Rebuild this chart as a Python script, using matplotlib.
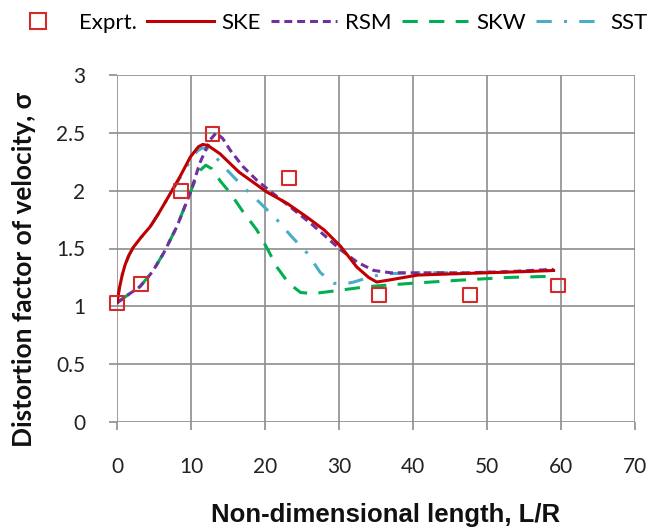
import matplotlib
matplotlib.use("Agg")
import matplotlib.pyplot as plt
from matplotlib.lines import Line2D

# Experimental data
exp_x = [0.0, 3.2, 8.6, 12.9, 23.2, 35.4, 47.7, 59.6]
exp_y = [1.03, 1.19, 2.00, 2.49, 2.11, 1.10, 1.10, 1.18]

# Standard k-epsilon
ske_x = [0.0, 0.3, 0.7, 1.1, 1.6, 2.2, 3.3, 4.5, 5.6, 6.7, 8.5, 9.9, 11.0, 11.6, 12.3, 13.9, 16.5, 18.9, 20.2, 23.0, 25.7, 28.0, 30.2, 32.4, 34.0, 35.1, 37.0, 40.6, 45.0, 50.0, 55.0, 59.0]
ske_y = [1.03, 1.15, 1.27, 1.36, 1.44, 1.51, 1.60, 1.69, 1.80, 1.92, 2.12, 2.29, 2.38, 2.40, 2.39, 2.32, 2.16, 2.05, 1.99, 1.89, 1.77, 1.66, 1.52, 1.34, 1.25, 1.21, 1.23, 1.27, 1.28, 1.29, 1.30, 1.31]

# Reynolds stress model
rsm_x = [0.0, 1.5, 3.1, 4.8, 6.3, 8.1, 9.9, 11.2, 12.6, 13.4, 14.3, 15.3, 17.0, 18.9, 21.0, 23.4, 26.5, 30.2, 32.5, 34.7, 37.0, 41.0, 47.3, 53.0, 59.0]
rsm_y = [1.03, 1.10, 1.17, 1.30, 1.46, 1.69, 1.98, 2.24, 2.44, 2.50, 2.45, 2.35, 2.21, 2.09, 1.98, 1.86, 1.70, 1.49, 1.38, 1.31, 1.29, 1.29, 1.29, 1.30, 1.32]

# Standard k-omega
skw_x = [0.0, 1.5, 3.1, 4.8, 6.3, 8.1, 9.5, 10.5, 11.3, 12.0, 12.8, 14.0, 15.3, 17.0, 18.9, 20.3, 21.6, 23.2, 24.8, 26.5, 29.0, 33.8, 40.0, 47.3, 53.0, 59.0]
skw_y = [1.03, 1.10, 1.17, 1.30, 1.46, 1.69, 1.92, 2.08, 2.18, 2.22, 2.19, 2.08, 1.98, 1.82, 1.66, 1.50, 1.34, 1.20, 1.12, 1.11, 1.13, 1.17, 1.20, 1.23, 1.25, 1.26]

# Shear stress transport
sst_x = [0.0, 0.3, 0.7, 1.1, 1.6, 2.2, 3.3, 4.5, 5.6, 6.7, 8.5, 9.9, 10.8, 11.5, 12.2, 13.2, 15.0, 17.1, 19.4, 21.6, 23.5, 25.7, 27.5, 29.3, 30.5, 32.0, 34.0, 36.0, 40.0, 47.3, 53.0, 59.0]
sst_y = [1.03, 1.15, 1.27, 1.36, 1.44, 1.51, 1.60, 1.69, 1.80, 1.92, 2.11, 2.26, 2.34, 2.37, 2.36, 2.30, 2.17, 2.03, 1.89, 1.75, 1.61, 1.46, 1.29, 1.20, 1.19, 1.21, 1.25, 1.28, 1.29, 1.29, 1.30, 1.31]

x_ticks = [0, 10, 20, 30, 40, 50, 60, 70]
y_ticks = [0, 0.5, 1, 1.5, 2, 2.5, 3]
y_tick_labels = ["0", "0.5", "1", "1.5", "2", "2.5", "3"]
labels = ["Exprt.", "SKE", "RSM", "SKW", "SST"]

plt.rcParams['font.family'] = ['Lato', 'DejaVu Sans']

W, H = 667, 528
fig = plt.figure(figsize=(W / 100, H / 100), dpi=100)
ax = fig.add_axes([117 / W, 1 - 422 / H, (635 - 117) / W, (422 - 75) / H])

red = "#c00000"
purple = "#7030a0"
green = "#00b050"
cyan = "#4bacc6"
marker_red = "#d42a2a"

LW = 2.2
ske_style = dict(color=red, lw=LW)
rsm_style = dict(color=purple, lw=LW, dashes=(2.6, 1.6))
skw_style = dict(color=green, lw=LW, dashes=(5, 3.7))
sst_style = dict(color=cyan, lw=LW, dashes=(5, 4, 1, 4))

ax.plot(sst_x, sst_y, zorder=3, **sst_style)
ax.plot(skw_x, skw_y, zorder=3, **skw_style)
ax.plot(rsm_x, rsm_y, zorder=4, **rsm_style)
ax.plot(ske_x, ske_y, zorder=5, **ske_style)
ax.scatter(exp_x, exp_y, marker="s", s=100, facecolors="none", edgecolors=marker_red,
           linewidths=1.5, zorder=6, clip_on=False)

ax.set_xlim(0, 70)
ax.set_ylim(0, 3)
ax.set_xticks(x_ticks)
ax.set_yticks(y_ticks)
ax.set_yticklabels(y_tick_labels)
ax.grid(True, color="#8c8c8c", lw=1.2)
ax.set_axisbelow(True)
for s in ax.spines.values():
    s.set_visible(False)
ax.tick_params(axis="both", colors="#8c8c8c", length=6, width=1.2, labelsize=15,
               labelcolor="#222222")
ax.tick_params(axis="x", pad=19)
ax.tick_params(axis="y", pad=17)

ax.set_xlabel("Non-dimensional length, L/R", fontsize=18.5, fontweight="bold",
              family=["Liberation Sans", "DejaVu Sans"], color="#111111")
ax.xaxis.set_label_coords((386 - 117) / (635 - 117), -(515 - 422) / (422 - 75))
ax.xaxis.label.set_verticalalignment("center")

ax.set_ylabel("Distortion factor of velocity, σ", fontsize=19, fontweight="bold",
              color="#111111")
ax.yaxis.set_label_coords(-(117 - 24) / (635 - 117), (422 - 270) / (422 - 75))
ax.yaxis.label.set_verticalalignment("center")

handles = [
    Line2D([], [], marker="s", ls="none", markersize=11, markerfacecolor="none",
           markeredgecolor=marker_red, markeredgewidth=1.5),
    Line2D([], [], **ske_style),
    Line2D([], [], **rsm_style),
    Line2D([], [], **skw_style),
    Line2D([], [], **sst_style),
]
fig.legend(handles, labels, loc="center", bbox_to_anchor=(326 / W, 1 - 23 / H), ncol=5,
           frameon=False, fontsize=16, handlelength=3.0, handletextpad=0.35,
           columnspacing=0.45, borderpad=0)

fig.savefig("out.png", dpi=100)
